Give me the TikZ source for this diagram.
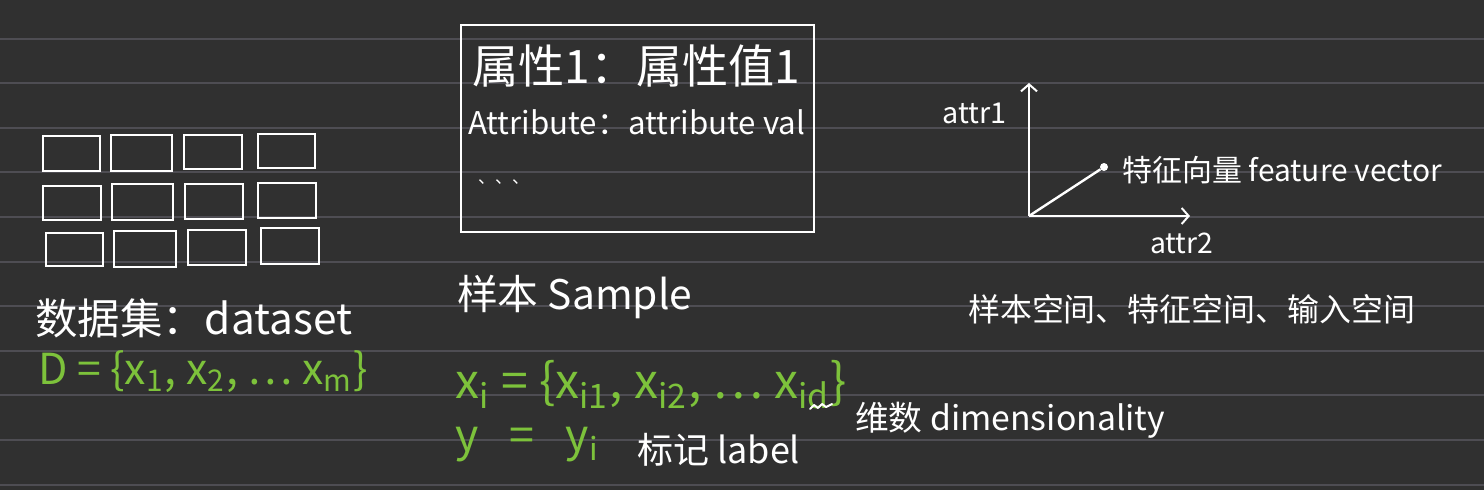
\documentclass[tikz,border=0pt]{standalone}
\usepackage{fontspec}
\setmainfont{Noto Sans CJK SC}
\usetikzlibrary{arrows.meta}
\definecolor{bg}{HTML}{303030}
\definecolor{rulecol}{HTML}{4E4D53}
\definecolor{hand}{HTML}{7DC23B}
\newcommand{\fitw}[2]{\resizebox{#1pt}{!}{#2}}
\begin{document}
\begin{tikzpicture}[x=1pt,y=-1pt,
  txt/.style={inner sep=0pt, anchor=west, text=white},
  grn/.style={txt, text=hand},
  cell/.style={draw=white, line width=2.4pt},
  axis/.style={draw=white, line width=2.4pt, -{Straight Barb[length=7pt,width=16pt,line width=2pt]}},
]
\fill[bg] (0,0) rectangle (1484,490);
\useasboundingbox (0,0) rectangle (1484,490);
\foreach \k in {0,...,10} \draw[rulecol, line width=2pt] (0,38.5+44.6*\k) -- (1484,38.5+44.6*\k);

% dataset grid
\draw[cell] (43,136) rectangle (100,171);
\draw[cell] (111,135) rectangle (172,171);
\draw[cell] (184,135) rectangle (242,169);
\draw[cell] (258,134) rectangle (315,168);
\draw[cell] (43,186) rectangle (101,220);
\draw[cell] (112,184) rectangle (173,220);
\draw[cell] (185,184) rectangle (243,219);
\draw[cell] (258,183) rectangle (316,218);
\draw[cell] (46,233) rectangle (103,266);
\draw[cell] (114,231) rectangle (176,267);
\draw[cell] (188,230) rectangle (246,265);
\draw[cell] (261,228) rectangle (319,264);

\node[txt] (ds) at (35,318) {\fitw{317}{数据集：dataset}};
\node[grn] (D) at (38,372) {\fitw{330}{D = \{x\textsubscript{1}, x\textsubscript{2}, … x\textsubscript{m}\}}};

% sample box
\node[draw=white, line width=2.4pt, minimum width=353pt, minimum height=207pt, inner sep=0pt, anchor=north west] (box) at (460,24) {};
\node[txt] (a1) at (472,66) {\fitw{328}{属性1：属性值1}};
\node[txt] (a2) at (468,122) {\fitw{337}{Attribute：attribute val}};
\node[txt, anchor=base west, font=\fontsize{17}{17}\selectfont] (dots) at (478,183) {、、、};

\node[txt] (smp) at (457,297) {\fitw{235}{样本 Sample}};
\node[grn] (xi) at (455,385) {\fitw{392}{x\textsubscript{i} = \{x\textsubscript{i1}, x\textsubscript{i2}, … x\textsubscript{id}\}}};
\draw[white, line width=2pt, line cap=round, line join=round] (810,409) -- (814,405) -- (818,408) -- (822,404) -- (826,407) -- (832,404);
\node[grn] (y) at (455,445) {\fitw{145}{y\hspace{0.7em}=\hspace{0.7em}y\textsubscript{i}}};
\node[txt] (lab) at (637,450) {\fitw{163}{标记 label}};
\node[txt] (dim) at (855,420) {\fitw{310}{维数 dimensionality}};

% feature space
\coordinate (O) at (1029,216);
\coordinate (ytop) at (1029,83);
\coordinate (xend) at (1190,216);
\draw[axis] (O) -- (ytop);
\draw[axis] (O) -- (xend);
\node[circle, fill=white, inner sep=0pt, minimum size=8pt] (pt) at (1104,167) {};
\draw[white, line width=2.4pt] (O) -- (pt);
\node[txt] (at1) at (942,113) {\fitw{64}{attr1}};
\node[txt] (at2) at (1150,243) {\fitw{63}{attr2}};
\node[txt] (fv) at (1122,170) {\fitw{320}{特征向量 feature vector}};
\node[txt] (sp) at (968,309) {\fitw{447}{样本空间、特征空间、输入空间}};
\end{tikzpicture}
\end{document}
